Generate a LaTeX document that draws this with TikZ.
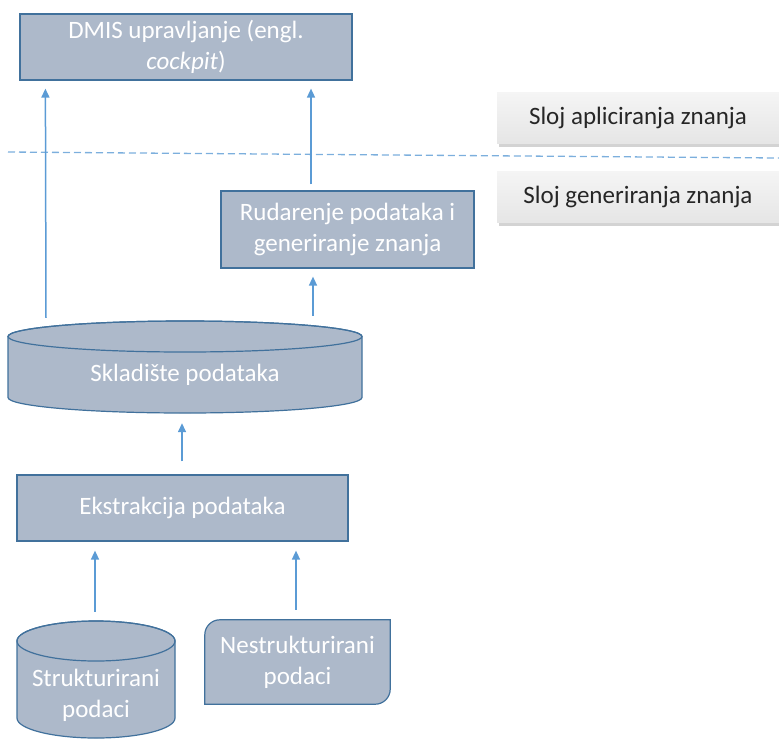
\documentclass[tikz,border=0pt]{standalone}
\usepackage{fontspec}
\setmainfont{Carlito}
\usetikzlibrary{arrows.meta,shadows,backgrounds}
\definecolor{boxfill}{HTML}{ADB9CA}
\definecolor{boxline}{HTML}{41719C}
\definecolor{linkblue}{HTML}{5B9BD5}
% drum: centre x, top y, bottom y, x radius, y radius
\newcommand{\drum}[5]{%
  \path[block] (#1-#4, #2+#5) -- (#1-#4, #3-#5)
    arc[start angle=180, end angle=0, x radius=#4, y radius=#5]
    -- (#1+#4, #2+#5)
    arc[start angle=0, end angle=-180, x radius=#4, y radius=#5] -- cycle;
  \draw[boxline, line width=1.2pt] (#1, #2+#5) ellipse[x radius=#4, y radius=#5];}

\begin{document}
\begin{tikzpicture}
[x=1pt, y=-1pt,
every node/.style={font=\fontsize{25}{31}\selectfont, align=center, inner sep=0pt},
block/.style={draw=boxline, line width=1.2pt, fill=boxfill, text=white},
label/.style={text=white},
layer/.style={top color=gray!8, bottom color=gray!20, text=black!85,
    minimum width=282, minimum height=51,
    drop shadow={shadow xshift=1.5pt, shadow yshift=-3pt, opacity=.35}},
link/.style={draw=linkblue, line width=1.5pt, -{Triangle[length=9pt,width=8pt]}}]

\useasboundingbox (0,0) rectangle (779,740);

% layers
\coordinate (sepA) at (8,152);
\coordinate (sepB) at (779,158);
\draw[linkblue!80, line width=1.3pt, dash pattern=on 7pt off 4pt] (sepA) -- (sepB);
\node[layer] (apl) at (638,118) {Sloj apliciranja znanja};
\node[layer] (gen) at (638,197) {Sloj generiranja znanja};

\node[block, minimum width=332, minimum height=66] (dmis) at (186,47)
  {DMIS upravljanje (engl.\\ \textit{cockpit})};
\node[block, minimum width=253, minimum height=77] (rud) at (347.5,229.5)
  {Rudarenje podataka i\\ generiranje znanja};
\drum{185}{321}{413}{177}{15.5}
\node[label, minimum width=354, minimum height=76] (skl) at (185,375)
  {Skladište podataka};
\node[block, minimum width=331, minimum height=66] (eks) at (182.5,508)
  {Ekstrakcija podataka};
\drum{96}{621}{738}{79}{20}
\node[label, minimum width=158, minimum height=86] (str) at (96,695)
  {Strukturirani\\ podaci};
\node[label, minimum width=185, minimum height=84] (nes) at (297.5,662)
  {Nestrukturirani\\ podaci};
\begin{scope}[on background layer]
\path[block] (nes.north) [sharp corners] -- (nes.north east) -- (nes.east)
  [rounded corners=15pt] -- (nes.south east) -- (nes.south)
  [sharp corners] -- (nes.south west) -- (nes.west)
  [rounded corners=15pt] -- (nes.north west) -- cycle;
\end{scope}

\draw[link] ([xshift=-139pt, yshift=19pt]skl.north) -- ([xshift=26pt, yshift=-8pt]dmis.south west);
\draw[link] ([xshift=-36.5pt, yshift=6pt]rud.north) -- ([xshift=125pt, yshift=-8pt]dmis.south);
\draw[link] ([xshift=128pt, yshift=21pt]skl.north) -- ([xshift=-34.5pt, yshift=-8pt]rud.south);
\draw[link] ([xshift=-0.5pt, yshift=13pt]eks.north) -- ([xshift=-3pt, yshift=-10pt]skl.south);
\draw[link] ([xshift=-1pt, yshift=40pt]str.north) -- ([xshift=-87.5pt, yshift=-9pt]eks.south);
\draw[link] ([xshift=-1.5pt, yshift=10pt]nes.north) -- ([xshift=113.5pt, yshift=-9pt]eks.south);
\end{tikzpicture}
\end{document}
